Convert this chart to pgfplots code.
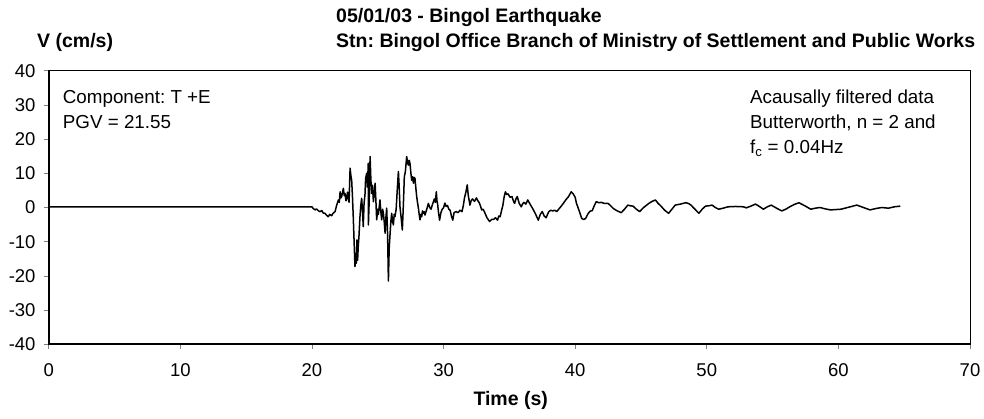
\documentclass[border=0pt]{standalone}
\usepackage{fontspec}
\setmainfont{Liberation Sans}
\usepackage{pgfplots}
\pgfplotsset{compat=1.18}
\frenchspacing
\pgfplotstableread{
t v
0 0.2
20.0 0.2
20.1 -0.3
20.24 -0.7
20.35 -0.4
20.5 -1.0
20.62 -1.2
20.75 -0.9
20.85 -1.6
20.99 -1.7
21.1 -2.2
21.24 -2.7
21.35 -2.0
21.5 -2.4
21.6 -1.7
21.76 -1.2
21.88 0.7
22.01 2.2
22.08 1.5
22.14 4.6
22.2 2.8
22.26 3.2
22.33 4.5
22.39 5.6
22.45 3.5
22.52 4.1
22.58 2.0
22.64 2.2
22.7 4.5
22.77 3.7
22.82 1.5
22.90 11.5
22.97 9.0
23.02 8.0
23.08 3.2
23.14 -2.7
23.27 -17.3
23.32 -13.4
23.37 -16.3
23.42 -9.5
23.47 -15.4
23.52 -11.4
23.58 -8.0
23.65 -2.7
23.71 0.5
23.78 2.7
23.84 -1.0
23.90 -5.6
23.96 1.2
24.03 3.7
24.08 8.5
24.16 10.0
24.22 6.0
24.28 12.9
24.29 -5.1
24.35 2.0
24.42 14.9
24.48 8.0
24.54 4.1
24.6 6.5
24.67 1.7
24.73 4.0
24.80 7.1
24.86 2.0
24.92 -3.6
25.0 -0.5
25.05 -2.0
25.17 2.2
25.23 -1.0
25.30 -3.6
25.37 -0.5
25.43 -1.7
25.5 -4.5
25.56 -7.5
25.62 -3.0
25.68 -0.2
25.75 -8.0
25.81 -21.5
25.87 -12.0
25.94 -7.5
26.0 -4.0
26.06 -1.7
26.12 -4.0
26.19 -5.1
26.25 -2.0
26.31 -2.7
26.4 -0.5
26.48 5.0
26.57 10.5
26.63 6.0
26.69 0.2
26.78 -3.0
26.87 -6.6
26.95 1.0
27.02 9.0
27.1 10.5
27.20 14.9
27.27 13.0
27.33 12.4
27.39 13.8
27.45 12.9
27.52 10.0
27.58 8.0
27.65 9.0
27.71 7.1
27.77 8.8
27.83 8.5
27.9 5.5
27.96 3.2
28.02 1.5
28.09 -0.2
28.15 -2.0
28.21 -3.6
28.28 -2.0
28.34 -2.7
28.4 -1.0
28.46 -1.7
28.53 -1.2
28.59 -2.2
28.7 -0.8
28.85 1.2
28.95 0.0
29.05 -0.5
29.15 0.8
29.3 2.5
29.38 1.5
29.45 4.6
29.5 2.0
29.55 1.0
29.62 -1.5
29.7 -3.7
29.8 -1.5
29.9 -0.5
30.0 -0.1
30.1 1.3
30.2 0.3
30.3 0.6
30.4 -0.5
30.5 -0.8
30.6 -2.5
30.7 -3.7
30.8 -1.5
30.95 -1.2
31.1 -1.5
31.25 -0.8
31.4 -1.2
31.5 0.5
31.6 3.0
31.7 4.5
31.8 6.6
31.88 3.5
31.95 2.0
32.0 0.7
32.1 2.0
32.2 2.5
32.35 1.8
32.5 2.8
32.6 2.0
32.7 1.5
32.8 0.5
32.9 -0.7
33.0 -0.5
33.1 -1.2
33.3 -3.0
33.5 -4.1
33.65 -3.5
33.8 -3.5
33.95 -3.0
34.1 -3.7
34.2 -2.5
34.3 -2.7
34.4 -1.0
34.5 0.5
34.6 3.0
34.7 4.6
34.8 3.8
34.9 4.0
35.05 3.0
35.2 3.2
35.3 2.0
35.4 1.2
35.5 2.5
35.6 3.2
35.75 1.2
35.9 0.2
36.0 1.0
36.1 1.5
36.25 1.0
36.4 2.2
36.6 0.8
36.8 -0.5
37.0 -2.0
37.2 -3.7
37.35 -2.0
37.5 -1.2
37.65 -2.5
37.8 -3.0
37.9 -2.0
38.0 -1.2
38.15 -0.8
38.3 -1.0
38.45 -0.8
38.6 -1.2
38.75 -0.5
38.9 0.2
39.1 1.2
39.3 2.3
39.5 3.2
39.7 4.6
39.85 4.0
40.0 3.0
40.1 1.2
40.2 0.2
40.35 -1.5
40.5 -3.2
40.65 -3.5
40.8 -3.2
40.95 -2.0
41.1 -1.2
41.2 -1.0
41.3 -0.9
41.45 0.5
41.6 1.7
41.8 1.4
42.0 1.5
42.2 1.2
42.5 1.2
42.7 0.5
42.9 -0.3
43.2 -1.0
43.5 -1.5
43.75 -0.5
44.0 0.7
44.2 0.5
44.4 0.4
44.65 -0.5
44.9 -1.2
45.2 0.0
45.6 1.2
45.85 1.8
46.1 2.2
46.3 1.2
46.5 0.5
46.8 -0.8
47.1 -1.7
47.35 -0.5
47.6 0.7
48.0 1.0
48.4 1.4
48.6 1.2
48.8 0.7
49.1 -0.5
49.4 -1.7
49.65 -0.5
49.9 0.4
50.15 0.5
50.4 0.7
50.65 0.0
50.9 -0.5
51.25 -0.2
51.6 0.2
52.2 0.3
52.8 0.2
53.0 -0.1
53.35 0.4
53.7 1.0
54.0 0.3
54.3 -0.5
54.6 0.2
54.9 0.7
55.3 -0.2
55.7 -1.0
56.0 -0.5
56.3 0.2
56.65 0.9
57.0 1.4
57.45 0.5
57.9 -0.5
58.25 -0.2
58.6 0
59.0 -0.4
59.4 -0.7
59.8 -0.6
60.2 -0.5
60.8 0.1
61.4 0.7
61.9 0.0
62.4 -0.7
62.85 -0.3
63.3 0
63.55 -0.1
63.8 -0.2
64.25 0.2
64.7 0.4
}\datatable
\begin{document}
\fontsize{18bp}{21bp}\selectfont
\begin{tikzpicture}
\begin{axis}[
  at={(0,0)}, anchor=south west, scale only axis,
  width=921.3bp, height=273.6bp,
  xmin=0, xmax=70, ymin=-40, ymax=40,
  xtick={0,10,...,70}, ytick={-40,-30,...,40},
  tick pos=left,
  tick align=outside, major tick length=5bp,
  tick style={gray, line width=0.8bp},
  axis line style={black, line width=1bp},
  every tick label/.append style={font=\fontsize{18.5bp}{21bp}\selectfont},
  xticklabel style={yshift=-8bp},
  yticklabel style={xshift=-2bp},
  /pgf/number format/assume math mode=true,
  clip=false,
]
\addplot[black, line width=1.5bp, line join=round] table[x=t, y=v] {\datatable};
\draw[black, line width=2bp] (rel axis cs:0,1) -- (rel axis cs:0,0) -- (rel axis cs:1,0);
\end{axis}
\begin{scope}[every node/.style={inner sep=0}]
\node[anchor=base west] at (-11.7bp,296.8bp) {\fontsize{19.5bp}{22bp}\selectfont\bfseries V (cm/s)};
\node[anchor=base west] at (287.3bp,321.3bp) {\fontsize{19.5bp}{22bp}\selectfont\bfseries 05/01/03 - Bingol Earthquake};
\node[anchor=base west] at (287.3bp,296.8bp) {\fontsize{19.5bp}{22bp}\selectfont\bfseries Stn: Bingol Office Branch of Ministry of Settlement and Public Works};
\node[anchor=center] at (462bp,-55.7bp) {\fontsize{19.5bp}{22bp}\selectfont\bfseries Time (s)};
\node[anchor=base west] at (14bp,240.3bp) {\fontsize{18.8bp}{22bp}\selectfont Component: T +E};
\node[anchor=base west] at (14bp,215.3bp) {\fontsize{18.8bp}{22bp}\selectfont PGV = 21.55};
\node[anchor=base west] at (701.3bp,240.3bp) {\fontsize{18.8bp}{22bp}\selectfont Acausally filtered data};
\node[anchor=base west] at (701.3bp,215.3bp) {\fontsize{18.8bp}{22bp}\selectfont Butterworth, n = 2 and};
\node[anchor=base west] at (701.3bp,190.3bp) {\fontsize{18.8bp}{22bp}\selectfont f\textsubscript{c} = 0.04Hz};
\end{scope}
\pgfresetboundingbox
\path (-48.7bp,-74.7bp) rectangle (935.3bp,344.3bp);
\end{tikzpicture}
\end{document}
